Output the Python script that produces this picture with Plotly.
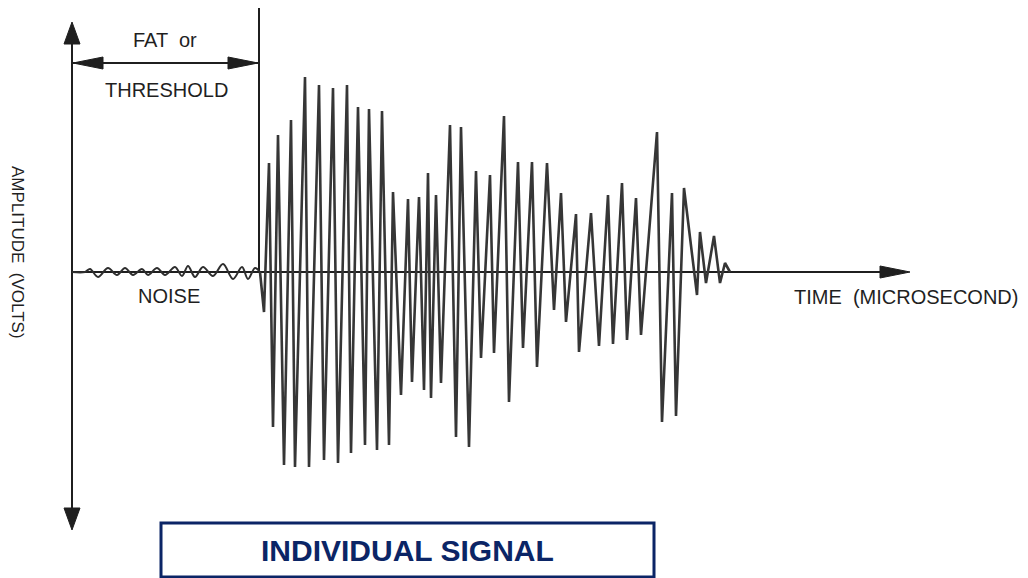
import plotly.graph_objects as go

# Background noise ahead of the hit (time in microseconds, amplitude in volts)
noise_time = [0, 13, 18, 26, 36, 45, 53, 61, 70, 76, 85, 93, 103, 110, 116, 123,
              131, 141, 151, 161, 170, 176, 183, 188]
noise_amp = [0.0, 0.0, 0.03, -0.05, 0.04, -0.03, 0.04, -0.03, 0.03, -0.03, 0.04, -0.03,
             0.05, -0.04, 0.06, -0.05, 0.05, -0.04, 0.08, -0.07, 0.05, -0.07, 0.04, 0.0]

# Acoustic emission burst after the threshold crossing
burst_time = [188, 192, 197, 201, 206, 212, 219, 223, 233, 237, 247, 252, 261, 266,
              275, 279, 286, 293, 297, 305, 310, 317, 321, 329, 336, 340, 347, 352,
              356, 359, 364, 369, 378, 384, 389, 397, 404, 409, 418, 422, 432, 437,
              446, 451, 460, 465, 475, 482, 489, 494, 504, 507, 519, 527, 536, 541,
              550, 555, 564, 569, 585, 590, 600, 604, 612, 625, 628, 634, 642, 648,
              653, 658]
burst_amp = [0.0, -0.40, 1.09, -1.55, 1.37, -1.93, 1.52, -1.95, 1.95, -1.95, 1.87, -1.88,
             1.84, -1.91, 1.87, -1.81, 1.65, -1.73, 1.63, -1.78, 1.61, -1.73, 0.80, -1.23,
             0.73, -1.10, 0.75, -1.18, 0.99, -1.26, 0.77, -1.11, 1.47, -1.65, 1.45, -1.75,
             1.01, -0.86, 0.97, -0.81, 1.56, -1.30, 1.10, -0.76, 1.10, -0.95, 1.09, -0.38,
             0.79, -0.50, 0.58, -0.80, 0.59, -0.74, 0.77, -0.72, 0.89, -0.68, 0.74, -0.63,
             1.40, -1.50, 0.79, -1.44, 0.84, -0.23, 0.40, -0.11, 0.36, -0.11, 0.09, 0.0]

threshold_time = 187      # first threshold crossing (FAT)
time_axis_end = 838       # arrow tip of the time axis
amp_axis_top = 2.50
amp_axis_bottom = -2.58

W, H = 1028, 578
X0, X1 = -72, 956                 # 1 µs per pixel
Y0, Y1 = -3.06, 2.72              # 0.01 V per pixel
PX_X = 1.0
PX_Y = (Y1 - Y0) / H

INK = "#1f1f1f"
NAVY = "#0b2566"
FONT = "Liberation Sans, Arial, sans-serif"

fig = go.Figure()

fig.add_trace(go.Scatter(x=noise_time, y=noise_amp, mode="lines",
                         line=dict(color="#2e2e2e", width=2, shape="spline", smoothing=1.0),
                         hoverinfo="skip", showlegend=False))
fig.add_trace(go.Scatter(x=burst_time, y=burst_amp, mode="lines",
                         line=dict(color="#363636", width=2.6),
                         hoverinfo="skip", showlegend=False))


def head(tx, ty, direction, length, half):
    """Filled triangular arrowhead; length/half given in pixels."""
    if direction == "up":
        pts = [(tx, ty), (tx - half * PX_X, ty - length * PX_Y), (tx + half * PX_X, ty - length * PX_Y)]
    elif direction == "down":
        pts = [(tx, ty), (tx - half * PX_X, ty + length * PX_Y), (tx + half * PX_X, ty + length * PX_Y)]
    elif direction == "right":
        pts = [(tx, ty), (tx - length * PX_X, ty + half * PX_Y), (tx - length * PX_X, ty - half * PX_Y)]
    else:
        pts = [(tx, ty), (tx + length * PX_X, ty + half * PX_Y), (tx + length * PX_X, ty - half * PX_Y)]
    path = "M " + " L ".join(f"{x},{y}" for x, y in pts) + " Z"
    return dict(type="path", path=path, fillcolor=INK, line=dict(color=INK, width=1), layer="above")


def seg(x0, y0, x1, y1, color=INK, width=2):
    return dict(type="line", x0=x0, y0=y0, x1=x1, y1=y1, line=dict(color=color, width=width),
                layer="below")


fat_y = 2.09
shapes = [
    seg(0, amp_axis_top - 5 * PX_Y, 0, amp_axis_bottom + 5 * PX_Y),           # amplitude axis
    seg(0, 0, time_axis_end - 10, 0),                                          # time axis
    seg(threshold_time, 0, threshold_time, 2.64),                              # threshold marker
    seg(1, fat_y, threshold_time - 1, fat_y, width=1.8),                       # FAT span
    head(0, amp_axis_top, "up", 22, 8),
    head(0, amp_axis_bottom, "down", 22, 8),
    head(time_axis_end, 0, "right", 30, 6),
    head(1, fat_y, "left", 30, 6),
    head(threshold_time - 1, fat_y, "right", 30, 6),
    dict(type="rect", xref="paper", yref="paper",
         x0=161 / W, x1=654 / W, y0=1 - 577 / H, y1=1 - 523 / H,
         line=dict(color=NAVY, width=3), fillcolor="rgba(0,0,0,0)"),
]


def label(x, y, text, size, color=INK, angle=0, xref="x", yref="y"):
    return dict(x=x, y=y, xref=xref, yref=yref, text=text, showarrow=False, textangle=angle,
                xanchor="center", yanchor="middle",
                font=dict(family=FONT, size=size, color=color))


annotations = [
    label(93, 2.32, "FAT  or", 20),
    label(94, 1.82, "THRESHOLD", 20),
    label(97, -0.24, "NOISE", 20),
    label(834, -0.25, "TIME  (MICROSECOND)", 20),
    label(-54, 0.20, "AMPLITUDE  (VOLTS)", 17, angle=90),
    label(407 / W, 1 - 550 / H, "<b>INDIVIDUAL SIGNAL</b>", 30, color=NAVY,
          xref="paper", yref="paper"),
]

fig.update_layout(
    width=W, height=H,
    margin=dict(l=0, r=0, t=0, b=0),
    paper_bgcolor="white", plot_bgcolor="white",
    xaxis=dict(range=[X0, X1], visible=False, fixedrange=True),
    yaxis=dict(range=[Y0, Y1], visible=False, fixedrange=True),
    shapes=shapes, annotations=annotations,
    showlegend=False,
)

fig.write_html("out.html", config=dict(displayModeBar=False))
